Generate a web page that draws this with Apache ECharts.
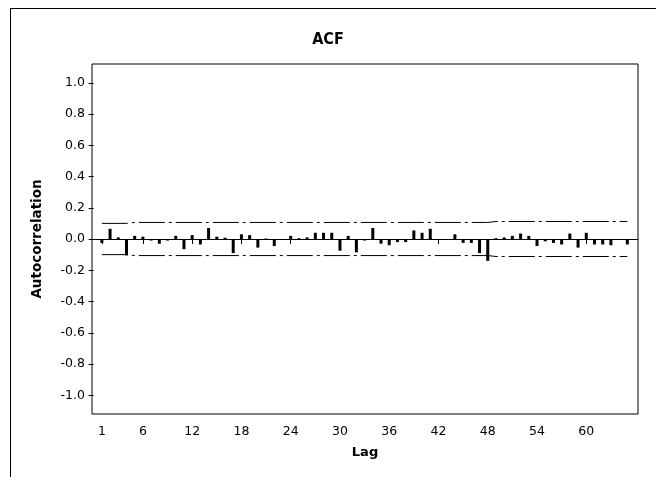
<!DOCTYPE html>
<html>
<head>
<meta charset="utf-8">
<script src="https://cdn.jsdelivr.net/npm/echarts@6/dist/echarts.min.js"></script>
<style>
html,body{margin:0;padding:0;background:#fff;}
#chart{width:656px;height:477px;}
</style>
</head>
<body>
<div id="chart"></div>
<script>
// Data
var lags = [];
for (var k = 1; k <= 65; k++) lags.push(k);
var acf = [
  -0.025, 0.065, 0.010, -0.105, 0.020, 0.015, -0.010, -0.030, -0.010, 0.020,
  -0.065, 0.025, -0.035, 0.070, 0.015, 0.008, -0.090, 0.030, 0.025, -0.055,
  0.003, -0.045, -0.005, 0.020, 0.005, 0.010, 0.040, 0.040, 0.040, -0.075,
  0.020, -0.085, -0.010, 0.070, -0.030, -0.040, -0.020, -0.020, 0.055, 0.040,
  0.065, -0.005, -0.005, 0.030, -0.025, -0.025, -0.090, -0.140, 0.005, 0.010,
  0.020, 0.035, 0.020, -0.045, -0.015, -0.025, -0.035, 0.035, -0.055, 0.040,
  -0.035, -0.035, -0.040, -0.005, -0.035
];
var limitLags = [1, 4, 5, 48, 49, 65];
var upperLimit = [0.100, 0.100, 0.106, 0.106, 0.112, 0.112];
var lowerLimit = [-0.100, -0.100, -0.106, -0.106, -0.112, -0.112];
var xTicks = [1, 6, 12, 18, 24, 30, 36, 42, 48, 54, 60];
var yTicks = [-1.0, -0.8, -0.6, -0.4, -0.2, 0.0, 0.2, 0.4, 0.6, 0.8, 1.0];
var title = 'ACF';
var xName = 'Lag';
var yName = 'Autocorrelation';

var FONT = '"DejaVu Sans", sans-serif';
var FONT_C = '"DejaVu Sans Condensed", "DejaVu Sans", sans-serif';
var chart = echarts.init(document.getElementById('chart'), null, {renderer: 'canvas'});
var dash = [26, 4, 3, 4];
chart.setOption({
  animation: false,
  backgroundColor: '#fff',
  title: {
    text: title, left: 'center', top: 27,
    textStyle: {fontFamily: FONT_C, fontWeight: 'bold', fontSize: 16, color: '#000'}
  },
  grid: {
    left: 92, top: 64, right: 18, bottom: 63,
    show: true, borderColor: '#000', borderWidth: 1, backgroundColor: 'transparent'
  },
  xAxis: {
    type: 'value', min: -0.2, max: 66.3,
    axisLine: {show: false},
    splitLine: {show: false},
    axisTick: {show: true, length: 5, customValues: xTicks, lineStyle: {color: '#000'}},
    axisLabel: {customValues: xTicks, margin: 11, color: '#000', fontFamily: FONT, fontSize: 12.5},
    name: xName, nameLocation: 'middle', nameGap: 32,
    nameTextStyle: {fontFamily: FONT, fontWeight: 'bold', fontSize: 13, color: '#000'}
  },
  yAxis: {
    type: 'value', min: -1.12, max: 1.12,
    axisLine: {show: false},
    splitLine: {show: false},
    axisTick: {show: true, length: 5, customValues: yTicks, lineStyle: {color: '#000'}},
    axisLabel: {
      customValues: yTicks, margin: 7, color: '#000', fontFamily: FONT, fontSize: 12.5,
      formatter: function (v) { var r = Math.round(v * 10) / 10; return (r === 0 ? 0 : r).toFixed(1); }
    },
    name: yName, nameLocation: 'middle', nameGap: 48,
    nameTextStyle: {fontFamily: FONT, fontWeight: 'bold', fontSize: 13.5, color: '#000'}
  },
  series: [
    {
      type: 'bar', barWidth: 3,
      itemStyle: {color: '#000'},
      data: lags.map(function (l, i) { return [l, acf[i]]; }),
      markLine: {
        silent: true, symbol: 'none', label: {show: false},
        lineStyle: {color: '#000', width: 1, type: 'solid'},
        data: [{yAxis: 0}]
      }
    },
    {
      type: 'line', symbol: 'none',
      lineStyle: {color: '#000', width: 1, type: dash},
      data: limitLags.map(function (l, i) { return [l, upperLimit[i]]; })
    },
    {
      type: 'line', symbol: 'none',
      lineStyle: {color: '#000', width: 1, type: dash},
      data: limitLags.map(function (l, i) { return [l, lowerLimit[i]]; })
    }
  ],
  graphic: [
    {type: 'line', shape: {x1: 10.5, y1: 8, x2: 10.5, y2: 477}, style: {stroke: '#000', lineWidth: 1}},
    {type: 'line', shape: {x1: 10, y1: 8.5, x2: 656, y2: 8.5}, style: {stroke: '#000', lineWidth: 1}}
  ]
});
</script>
</body>
</html>
